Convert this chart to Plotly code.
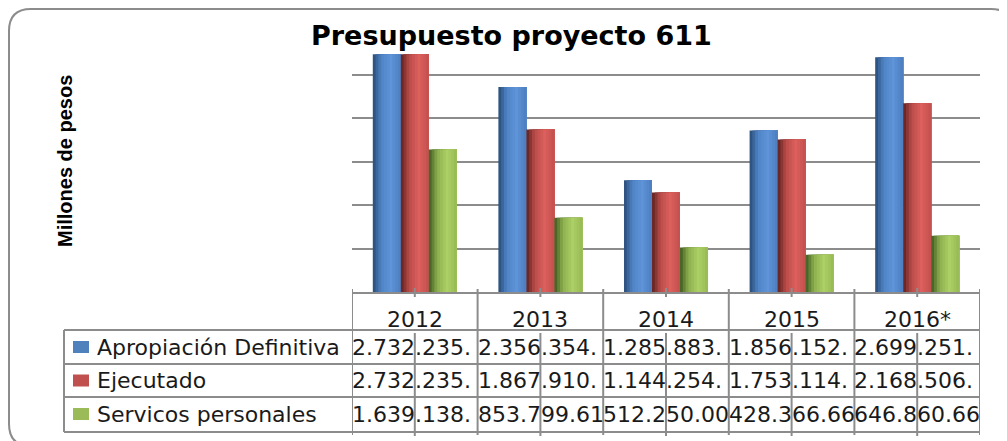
import plotly.graph_objects as go

# %% data (millones de pesos)
years = ['2012', '2013', '2014', '2015', '2016*']
series_names = ['Apropiación Definitiva', 'Ejecutado', 'Servicos personales']
apropiacion = [2732.235, 2356.354, 1285.883, 1856.152, 2699.251]
ejecutado = [2732.235, 1867.910, 1144.254, 1753.114, 2168.506]
servicios = [1639.138, 853.799, 512.250, 428.366, 646.860]

# texts shown (clipped) in the data table
txt_apropiacion = ['2.732.235.', '2.356.354.', '1.285.883.', '1.856.152.', '2.699.251.']
txt_ejecutado = ['2.732.235.', '1.867.910.', '1.144.254.', '1.753.114.', '2.168.506.']
txt_servicios = ['1.639.138.', '853.799.61', '512.250.00', '428.366.66', '646.860.66']

# %% style
# page body has an 8px margin, so the figure is drawn 8px smaller
OFF = 8
W, H = 1007 - OFF, 441 - OFF
grey = '#8c8c8c'
flat = ['#4F81BD', '#C0504D', '#9BBB59']
# left edge -> highlight -> right edge, for the cylinder look
stops = [
    [(0.0, '#294a75'), (0.3, '#4f84c6'), (0.65, '#5f94d8'), (1.0, '#4b7dbe')],
    [(0.0, '#5c2120'), (0.3, '#b94c49'), (0.65, '#dc605d'), (1.0, '#c2504d')],
    [(0.0, '#3d5820'), (0.3, '#8cae4e'), (0.65, '#acd066'), (1.0, '#97b955')],
]

def px(x):
    return (x - OFF) / W

def py(y):
    return 1 - (y - OFF) / H

def hex2rgb(h):
    return [int(h[i:i + 2], 16) for i in (1, 3, 5)]

def shade(st, t):
    for (t0, c0), (t1, c1) in zip(st[:-1], st[1:]):
        if t0 <= t <= t1:
            f = (t - t0) / (t1 - t0)
            a, b = hex2rgb(c0), hex2rgb(c1)
            return 'rgb(%d,%d,%d)' % tuple(round(a[i] + (b[i] - a[i]) * f) for i in range(3))
    return st[-1][1]

# %% bars
fig = go.Figure()
xs = list(range(len(years)))
bar_w = 0.223
group_left = -1.5 * bar_w
n_strips = 10
for s, vals in enumerate([apropiacion, ejecutado, servicios]):
    sw = bar_w / n_strips
    for k in range(n_strips):
        fig.add_trace(go.Bar(
            x=xs, y=vals, offset=group_left + s * bar_w + k * sw,
            width=(bar_w - k * sw) if k < n_strips - 1 else sw,
            marker=dict(color=shade(stops[s], (k + 0.5) / n_strips), line_width=0),
            showlegend=False, hoverinfo='skip'))

fig.update_layout(
    width=W, height=H, margin=dict(l=0, r=0, t=0, b=0),
    paper_bgcolor='white', plot_bgcolor='white', barmode='overlay',
    xaxis=dict(domain=[px(352), px(980)], range=[-0.5, 4.5], showticklabels=False,
               showgrid=False, zeroline=False, showline=True, linecolor=grey, linewidth=2,
               fixedrange=True),
    yaxis=dict(domain=[py(292), py(31)], range=[0, 3000], dtick=500, showticklabels=False,
               showgrid=True, gridcolor=grey, gridwidth=1.5, zeroline=False, showline=False,
               fixedrange=True),
)

# %% shapes: frame, table lines, ticks
shapes = []
L, R, T, B, r = 9, 1013, 9, 446, 22
path = (f'M {px(L + r)},{py(T)} L {px(R - r)},{py(T)} Q {px(R)},{py(T)} {px(R)},{py(T + r)} '
        f'L {px(R)},{py(B - r)} Q {px(R)},{py(B)} {px(R - r)},{py(B)} '
        f'L {px(L + r)},{py(B)} Q {px(L)},{py(B)} {px(L)},{py(B - r)} '
        f'L {px(L)},{py(T + r)} Q {px(L)},{py(T)} {px(L + r)},{py(T)} Z')
shapes.append(dict(type='path', path=path, xref='paper', yref='paper',
                   line=dict(color=grey, width=2)))
# hide left part of top gridline behind title
shapes.append(dict(type='rect', xref='paper', yref='paper', x0=px(345), x1=px(497),
                   y0=py(35), y1=py(27), fillcolor='white', line_width=0, layer='above'))

row_lines = [330, 364, 397, 432]
for yl in row_lines:
    shapes.append(dict(type='line', xref='paper', yref='paper', x0=px(64), x1=px(980),
                       y0=py(yl), y1=py(yl), line=dict(color=grey, width=2)))
shapes.append(dict(type='line', xref='paper', yref='paper', x0=px(64), x1=px(64),
                   y0=py(330), y1=py(432), line=dict(color=grey, width=2)))
for i in range(len(years) + 1):
    shapes.append(dict(type='line', xref='x', yref='paper', x0=i - 0.5, x1=i - 0.5,
                       y0=py(289), y1=py(435), line=dict(color=grey, width=2)))
for i in xs:
    shapes.append(dict(type='line', xref='x', yref='paper', x0=i, x1=i,
                       y0=py(288), y1=py(297), line=dict(color=grey, width=2)))
    shapes.append(dict(type='line', xref='x', yref='paper', x0=i, x1=i,
                       y0=py(333), y1=py(436), line=dict(color=grey, width=2)))

# legend keys
row_mid = [347, 380.5, 414]
for s in range(3):
    shapes.append(dict(type='rect', xref='paper', yref='paper', x0=px(73), x1=px(89),
                       y0=py(row_mid[s] + 6), y1=py(row_mid[s] - 6),
                       fillcolor=flat[s], line_width=0))
fig.update_layout(shapes=shapes)

# %% texts
tfont = dict(family='DejaVu Sans', size=22, color='#1a1a1a')
ann = []
ann.append(dict(text='<b>Presupuesto proyecto 611</b>', xref='paper', yref='paper',
                x=px(512), y=py(35), xanchor='center', yanchor='middle', showarrow=False,
                font=dict(family='DejaVu Sans', size=27, color='black')))
ann.append(dict(text='<b>Millones de pesos</b>', xref='paper', yref='paper',
                x=px(65), y=py(161), xanchor='center', yanchor='middle', textangle=-90,
                showarrow=False, font=dict(family='Liberation Sans', size=20, color='black')))
for i, yr in enumerate(years):
    ann.append(dict(text=yr, xref='x', yref='paper', x=i, y=py(319), xanchor='center',
                    yanchor='middle', showarrow=False, font=tfont))
for s, (name, row) in enumerate(zip(series_names, [txt_apropiacion, txt_ejecutado, txt_servicios])):
    ann.append(dict(text=name, xref='paper', yref='paper', x=px(95), y=py(row_mid[s]),
                    xanchor='left', yanchor='middle', showarrow=False, font=tfont))
    for i, t in enumerate(row):
        ann.append(dict(text=t, xref='x', yref='paper', x=i - 0.5, y=py(row_mid[s]),
                        xanchor='left', yanchor='middle', showarrow=False, font=tfont,
                        xshift=-2))
fig.update_layout(annotations=ann)

fig.write_html('out.html')
